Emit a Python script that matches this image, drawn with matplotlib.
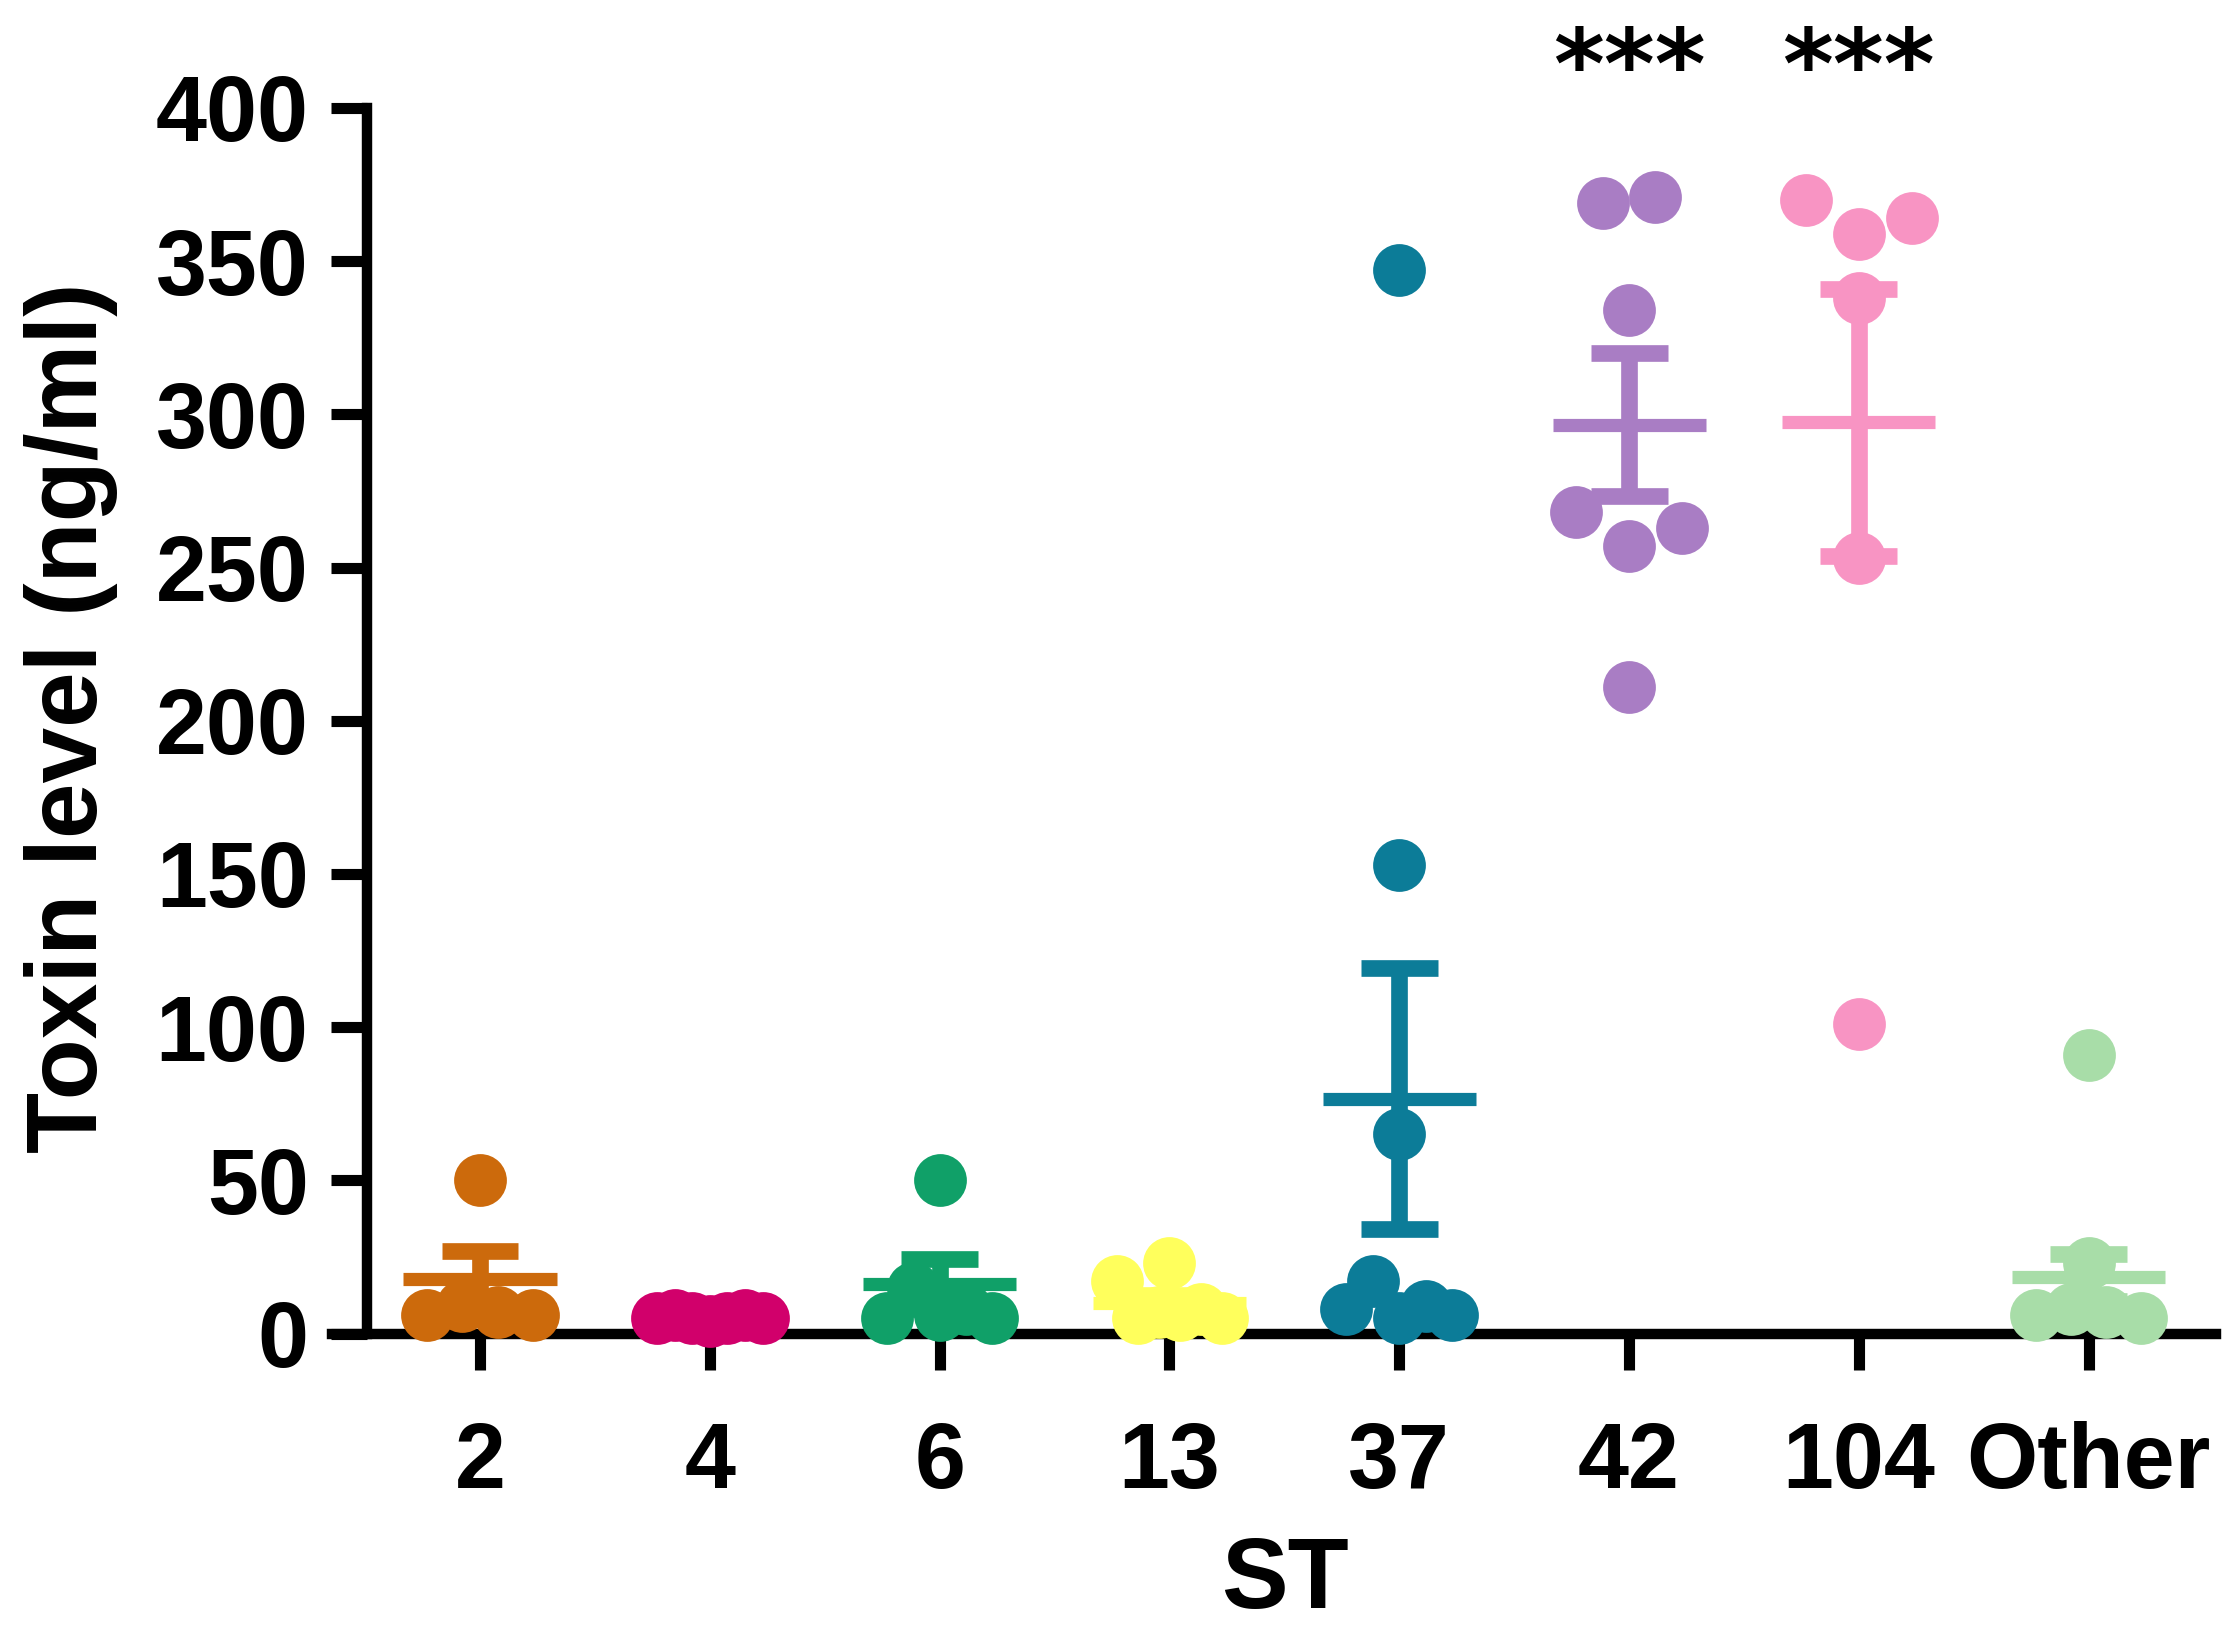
import numpy as np
import matplotlib
matplotlib.use('Agg')
import matplotlib.pyplot as plt

# ---------------- data ----------------
categories = ['2', '4', '6', '13', '37', '42', '104', 'Other']
st2 = [50, 6, 9, 7, 6]
st4 = [5, 6, 5, 4, 5, 6, 5]
st6 = [50, 5, 15, 6, 8, 5]
st13 = [17, 5, 7, 6, 8, 5, 23]
st37 = [347, 153, 65, 8, 17, 5, 9, 6]
st42 = [369, 371, 334, 268, 257, 263, 211]
st104 = [370, 359, 364, 338, 253, 101]
other = [91, 6, 8, 7, 5, 23]
groups = [st2, st4, st6, st13, st37, st42, st104, other]
means = [17.7, 5.0, 16.1, 10.0, 76.6, 296.6, 297.4, 18.3]
sems = [9.3, 0.5, 8.2, 2.5, 42.6, 23.3, 43.5, 7.6]
colors = ['#CC6A0C', '#D1006B', '#10A068', '#FFFF5C',
          '#0C7C98', '#A97DC4', '#F894C3', '#A8DDA8']
stars = ['', '', '', '', '', '***', '***', '']
yticks = [0, 50, 100, 150, 200, 250, 300, 350, 400]

# ---------------- style ----------------
plt.rcParams['font.family'] = ['Liberation Sans', 'DejaVu Sans']
plt.rcParams['font.weight'] = 'bold'

W, H = 2235, 1632
DPI = 100
fig = plt.figure(figsize=(W / DPI, H / DPI), dpi=DPI)

ax_left, ax_right = 332, 2216
ax_top, ax_bot = 108, 1333.5
ax = fig.add_axes([ax_left / W, (H - ax_bot) / H,
                   (ax_right - ax_left) / W, (ax_bot - ax_top) / H])

x = np.arange(len(categories))
ax.set_xlim(-0.644, 7.554)
ax.set_ylim(0, 400)

# pixel scales
p0 = ax.transData.transform((0, 0))
p1 = ax.transData.transform((1, 1))
ppu_x = p1[0] - p0[0]
ppu_y = p1[1] - p0[1]

ms = 38
d_px = ms * DPI / 72.0
wmax_px = d_px


def swarm_offsets(vals):
    vals = np.asarray(vals, float)
    order = np.argsort(vals, kind='stable')
    rows, cur = [], []
    for idx in order:
        if cur and (vals[idx] - vals[cur[0]]) * ppu_y < d_px:
            cur.append(idx)
        else:
            if cur:
                rows.append(cur)
            cur = [idx]
    if cur:
        rows.append(cur)
    off = np.zeros(len(vals))
    for r in rows:
        r = sorted(r)
        n = len(r)
        if n > 1:
            s = min(d_px, 2 * wmax_px / (n - 1))
            for k, idx in enumerate(r):
                off[idx] = (k - (n - 1) / 2) * s / ppu_x
    return off


mean_half = 0.333
cap_half = 0.1675
for i, (vals, m, se, c) in enumerate(zip(groups, means, sems, colors)):
    off = swarm_offsets(vals)
    ax.plot(x[i] + off, vals, 'o', ms=ms, color=c, mec='none',
            clip_on=False, zorder=3, linestyle='none')
    ax.plot([x[i] - mean_half, x[i] + mean_half], [m, m], color=c, lw=9.5,
            solid_capstyle='butt', clip_on=False, zorder=4)
    ax.plot([x[i], x[i]], [m - se, m + se], color=c, lw=12,
            solid_capstyle='butt', clip_on=False, zorder=4)
    for yy in (m - se, m + se):
        ax.plot([x[i] - cap_half, x[i] + cap_half], [yy, yy], color=c, lw=12,
                solid_capstyle='butt', clip_on=False, zorder=4)
    if stars[i]:
        ax.text(x[i], 427, stars[i], ha='center', va='top', fontsize=70,
                fontweight='bold', family='DejaVu Sans', clip_on=False)

# axes styling
for s in ('top', 'right'):
    ax.spines[s].set_visible(False)
ax.spines['left'].set_position(('data', -0.492))
ax.spines['left'].set_bounds(0, 400)
ax.spines['left'].set_linewidth(7.5)
ax.spines['bottom'].set_linewidth(7.5)
ax.spines['bottom'].set_zorder(2)

ax.set_xticks(x)
ax.set_xticklabels(categories)
ax.set_yticks(yticks)
ax.set_yticklabels([str(t) for t in yticks])
ax.tick_params(axis='both', direction='out', length=26, width=8,
               labelsize=66, colors='black')
ax.tick_params(axis='x', pad=37)
ax.tick_params(axis='y', pad=16)
for lab in ax.get_xticklabels() + ax.get_yticklabels():
    lab.set_fontweight('bold')

fig.text(97 / W, 1 - 718 / H, 'Toxin level (ng/ml)', rotation=90,
         rotation_mode='anchor', ha='center', va='baseline',
         fontsize=72, fontweight='bold')
fig.text(1285 / W, (H - 1608) / H, 'ST', ha='center', va='baseline',
         fontsize=72, fontweight='bold')

fig.savefig('out.png', dpi=DPI, facecolor='white')
